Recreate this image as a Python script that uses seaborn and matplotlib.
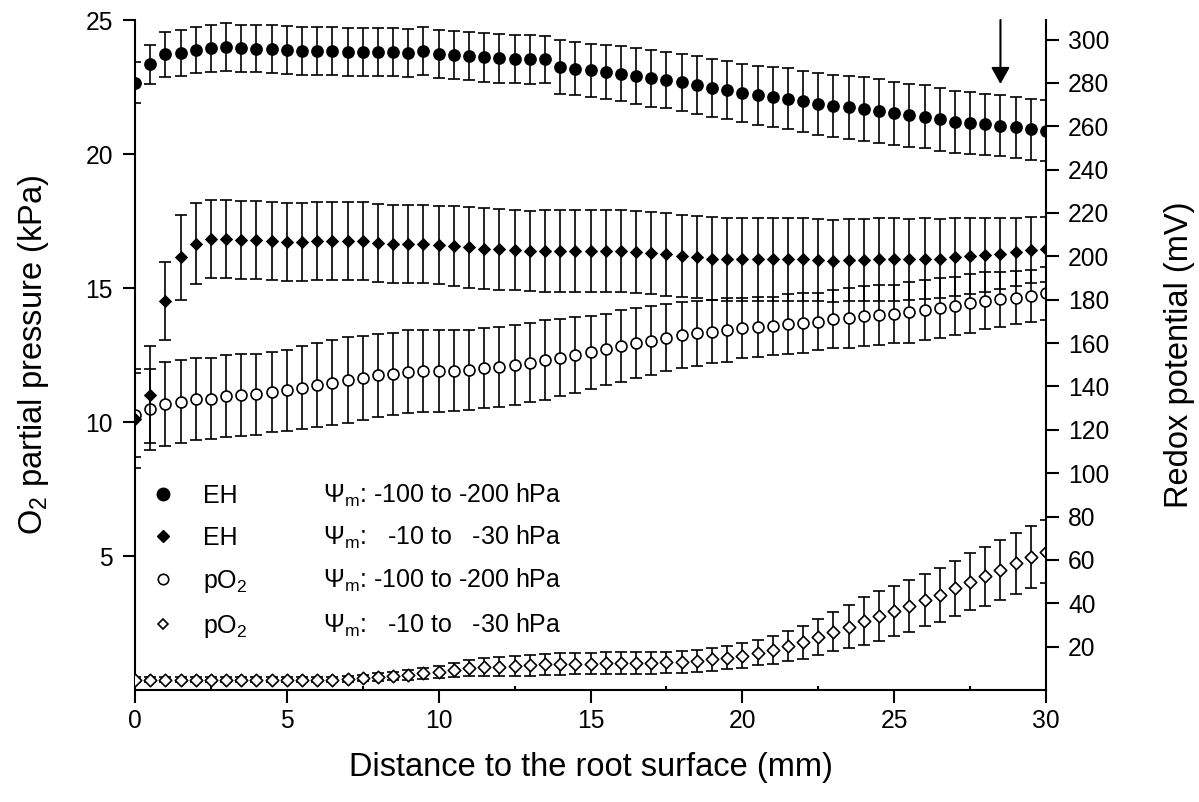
import numpy as np
import pandas as pd
import matplotlib
matplotlib.use("Agg")
import matplotlib.pyplot as plt
import seaborn as sns
from matplotlib.lines import Line2D

# ---------------- data ----------------
distance_mm = [0.0, 0.5, 1.0, 1.5, 2.0, 2.5, 3.0, 3.5, 4.0, 4.5,
               5.0, 5.5, 6.0, 6.5, 7.0, 7.5, 8.0, 8.5, 9.0, 9.5,
               10.0, 10.5, 11.0, 11.5, 12.0, 12.5, 13.0, 13.5, 14.0, 14.5,
               15.0, 15.5, 16.0, 16.5, 17.0, 17.5, 18.0, 18.5, 19.0, 19.5,
               20.0, 20.5, 21.0, 21.5, 22.0, 22.5, 23.0, 23.5, 24.0, 24.5,
               25.0, 25.5, 26.0, 26.5, 27.0, 27.5, 28.0, 28.5, 29.0, 29.5,
               30.0]

# EH (mV), Psi_m -100 to -200 hPa  (filled circles, right axis)
eh_dry_mv = [280.1, 288.5, 293.2, 293.6, 295.2, 295.9, 296.4, 295.9, 295.8, 295.5,
             295.2, 294.8, 294.7, 294.6, 294.2, 294.2, 294.2, 294.2, 293.9, 294.6,
             293.3, 292.8, 292.4, 291.8, 291.3, 291.0, 290.9, 290.9, 287.4, 286.5,
             285.8, 284.9, 284.2, 283.2, 282.1, 281.3, 280.2, 279.0, 277.8, 276.7,
             275.4, 274.4, 273.6, 272.7, 271.6, 270.4, 269.4, 268.7, 267.9, 267.0,
             265.9, 265.0, 264.4, 263.2, 261.9, 261.6, 261.0, 260.2, 259.5, 258.6,
             257.9]
eh_dry_err = [9.3, 9.0, 10.4, 10.6, 10.6, 10.8, 11.0, 11.0, 11.0, 11.0,
              11.0, 11.0, 11.0, 11.0, 11.0, 11.0, 11.0, 11.0, 11.0, 11.0,
              11.2, 11.2, 11.2, 11.2, 11.2, 11.2, 11.2, 10.8, 12.3, 12.3,
              12.3, 12.5, 12.6, 12.8, 13.0, 13.1, 13.2, 13.3, 13.4, 13.4,
              13.4, 13.6, 13.8, 14.0, 14.1, 14.3, 14.4, 14.5, 14.6, 14.7,
              14.7, 14.6, 14.5, 14.4, 14.3, 14.2, 14.1, 14.0, 14.0, 14.0,
              14.0]

# EH (mV), Psi_m -10 to -30 hPa  (filled diamonds, right axis)
eh_wet_mv = [125.2, 136.2, 179.4, 199.5, 205.9, 207.8, 207.8, 207.5, 207.5, 207.1,
             206.7, 206.7, 207.1, 207.1, 207.1, 207.1, 206.2, 205.9, 205.9, 205.5,
             205.2, 204.7, 204.1, 203.6, 203.2, 202.8, 202.6, 202.5, 202.5, 202.5,
             202.5, 202.5, 202.5, 202.1, 201.6, 200.9, 200.1, 199.8, 199.0, 198.6,
             198.6, 198.6, 198.6, 198.6, 198.6, 198.2, 197.9, 198.2, 198.2, 198.6,
             198.6, 198.6, 199.0, 199.0, 199.8, 200.1, 200.5, 201.3, 202.1, 202.8,
             203.2]
eh_wet_err = [23.0, 22.3, 18.0, 19.5, 18.6, 18.0, 18.0, 18.0, 18.0, 18.0,
              18.0, 18.0, 18.0, 18.0, 18.0, 18.0, 18.0, 18.0, 18.0, 18.0,
              18.0, 18.3, 18.5, 18.5, 18.5, 18.5, 18.5, 19.0, 19.0, 19.0,
              19.0, 19.0, 19.0, 19.0, 19.0, 19.0, 19.0, 19.0, 19.0, 19.0,
              19.0, 19.0, 19.0, 19.0, 19.0, 19.0, 19.0, 19.0, 19.0, 19.0,
              19.0, 18.8, 18.5, 18.2, 18.0, 17.5, 17.0, 16.5, 15.8, 15.2,
              15.0]

# pO2 (kPa), Psi_m -100 to -200 hPa  (open circles, left axis)
po2_dry_kpa = [10.26, 10.47, 10.66, 10.76, 10.85, 10.87, 10.97, 11.01, 11.04, 11.12,
               11.19, 11.28, 11.38, 11.47, 11.57, 11.65, 11.74, 11.79, 11.88, 11.90,
               11.90, 11.91, 11.94, 12.00, 12.06, 12.13, 12.21, 12.31, 12.40, 12.50,
               12.60, 12.71, 12.84, 12.94, 13.03, 13.15, 13.24, 13.31, 13.37, 13.43,
               13.51, 13.56, 13.59, 13.66, 13.68, 13.74, 13.83, 13.89, 13.96, 13.99,
               14.03, 14.09, 14.18, 14.24, 14.33, 14.43, 14.53, 14.58, 14.64, 14.70,
               14.80]
po2_dry_err = [1.55, 1.52, 1.57, 1.54, 1.54, 1.52, 1.52, 1.52, 1.51, 1.51,
               1.51, 1.54, 1.57, 1.59, 1.59, 1.57, 1.56, 1.54, 1.54, 1.54,
               1.52, 1.51, 1.49, 1.49, 1.49, 1.49, 1.48, 1.49, 1.43, 1.41,
               1.36, 1.33, 1.34, 1.31, 1.28, 1.24, 1.23, 1.22, 1.18, 1.18,
               1.13, 1.12, 1.09, 1.12, 1.12, 1.06, 1.08, 1.12, 1.12, 1.12,
               1.09, 1.13, 1.12, 1.12, 1.08, 1.10, 1.07, 1.02, 0.98, 0.96,
               1.00]

# pO2 (kPa), Psi_m -10 to -30 hPa  (open diamonds, left axis)
po2_wet_kpa = [0.38, 0.38, 0.38, 0.38, 0.38, 0.38, 0.38, 0.38, 0.38, 0.38,
               0.38, 0.38, 0.38, 0.39, 0.41, 0.44, 0.49, 0.52, 0.56, 0.62,
               0.68, 0.75, 0.81, 0.85, 0.87, 0.90, 0.93, 0.96, 0.97, 0.98,
               0.98, 1.00, 1.00, 1.00, 1.00, 1.03, 1.06, 1.09, 1.15, 1.21,
               1.28, 1.39, 1.49, 1.65, 1.78, 1.99, 2.18, 2.36, 2.57, 2.76,
               2.95, 3.13, 3.36, 3.54, 3.79, 4.04, 4.25, 4.48, 4.73, 4.95,
               5.16]
po2_wet_err = [0.10, 0.10, 0.10, 0.10, 0.10, 0.10, 0.10, 0.10, 0.10, 0.10,
               0.10, 0.10, 0.10, 0.10, 0.10, 0.12, 0.14, 0.16, 0.18, 0.20,
               0.22, 0.26, 0.30, 0.33, 0.36, 0.38, 0.39, 0.40, 0.40, 0.40,
               0.40, 0.40, 0.40, 0.40, 0.40, 0.40, 0.41, 0.42, 0.43, 0.44,
               0.47, 0.47, 0.51, 0.56, 0.61, 0.67, 0.73, 0.81, 0.89, 0.92,
               0.93, 0.96, 0.98, 1.00, 1.03, 1.06, 1.10, 1.12, 1.14, 1.16,
               1.18]

legend_labels = ["EH", "EH", "pO$_2$", "pO$_2$"]
psi_labels = [r"$\Psi_\mathrm{m}$: -100 to -200 hPa",
              r"$\Psi_\mathrm{m}$:   -10 to   -30 hPa",
              r"$\Psi_\mathrm{m}$: -100 to -200 hPa",
              r"$\Psi_\mathrm{m}$:   -10 to   -30 hPa"]

left_ticks = [5, 10, 15, 20, 25]
right_ticks = [20, 40, 60, 80, 100, 120, 140, 160, 180, 200, 220, 240, 260, 280, 300]
x_ticks = [0, 5, 10, 15, 20, 25, 30]

# ---------------- style ----------------
TICK_FS = 17.7
LEG_FS = 18
LAB_FS = 23.5

sns.set_theme(style="ticks")
plt.rcParams["font.family"] = ["Liberation Sans", "DejaVu Sans"]
plt.rcParams["mathtext.fontset"] = "custom"
plt.rcParams["mathtext.rm"] = "Liberation Sans"
plt.rcParams["mathtext.it"] = "Liberation Sans:italic"
plt.rcParams["mathtext.bf"] = "Liberation Sans:bold"
plt.rcParams["axes.linewidth"] = 1.5
plt.rcParams["text.color"] = "black"
plt.rcParams["axes.labelcolor"] = "black"
plt.rcParams["xtick.color"] = "black"
plt.rcParams["ytick.color"] = "black"
plt.rcParams["xtick.labelsize"] = TICK_FS
plt.rcParams["ytick.labelsize"] = TICK_FS

W, H = 1199, 802
fig = plt.figure(figsize=(W / 100, H / 100), dpi=100)
ax = fig.add_axes([135 / W, 112 / H, 911 / W, 670 / H])
ax2 = ax.twinx()

df = pd.DataFrame({
    "distance": distance_mm,
    "eh_dry": eh_dry_mv, "eh_wet": eh_wet_mv,
    "po2_dry": po2_dry_kpa, "po2_wet": po2_wet_kpa,
})

ebkw = dict(fmt="none", ecolor="black", elinewidth=1.2, capsize=4.3, capthick=1.2, zorder=2)

# pO2 (left axis)
ax.errorbar(distance_mm, po2_dry_kpa, yerr=po2_dry_err, **ebkw)
ax.errorbar(distance_mm, po2_wet_kpa, yerr=po2_wet_err, **ebkw)
sns.scatterplot(data=df, x="distance", y="po2_dry", ax=ax, marker="o", s=62,
                facecolor="white", edgecolor="black", linewidth=1.2, zorder=3, legend=False)
sns.scatterplot(data=df, x="distance", y="po2_wet", ax=ax, marker="D", s=40,
                facecolor="white", edgecolor="black", linewidth=1.2, zorder=3, legend=False)

# EH (right axis)
ax2.errorbar(distance_mm, eh_dry_mv, yerr=eh_dry_err, **ebkw)
ax2.errorbar(distance_mm, eh_wet_mv, yerr=eh_wet_err, **ebkw)
sns.scatterplot(data=df, x="distance", y="eh_dry", ax=ax2, marker="o", s=84,
                color="black", edgecolor="black", linewidth=0, zorder=3, legend=False)
sns.scatterplot(data=df, x="distance", y="eh_wet", ax=ax2, marker="D", s=46,
                color="black", edgecolor="black", linewidth=0, zorder=3, legend=False)

# axes limits / ticks
ax.set_xlim(0, 30)
ax.set_ylim(0, 25)
ax2.set_ylim(0, 309)
ax.set_xticks(x_ticks)
ax.set_xticks([2.5, 7.5, 12.5, 17.5, 22.5, 27.5], minor=True)
ax.set_yticks(left_ticks)
ax2.set_yticks(right_ticks)
ax.set_xticklabels([str(v) for v in x_ticks], fontsize=TICK_FS, color="black")
ax.set_yticklabels([str(v) for v in left_ticks], fontsize=TICK_FS, color="black")
ax2.set_yticklabels([str(v) for v in right_ticks], fontsize=TICK_FS, color="black")

ax.tick_params(axis="x", which="major", direction="out", length=9, width=1.5,
               labelsize=TICK_FS, pad=5, color="black", labelcolor="black")
ax.tick_params(axis="x", which="minor", direction="in", length=3, width=1.5, color="black")
ax.tick_params(axis="y", which="major", direction="out", length=9, width=1.5,
               labelsize=TICK_FS, pad=7, color="black", labelcolor="black")
ax2.tick_params(axis="y", which="major", direction="out", length=9, width=1.5,
                labelsize=TICK_FS, pad=7, color="black", labelcolor="black")

for s in ["top", "right"]:
    ax.spines[s].set_visible(False)
for s in ["top", "left", "bottom"]:
    ax2.spines[s].set_visible(False)
for sp in [ax.spines["left"], ax.spines["bottom"], ax2.spines["right"]]:
    sp.set_linewidth(1.5)
    sp.set_color("black")

ax.set_xlabel("Distance to the root surface (mm)", fontsize=LAB_FS, color="black")
ax.xaxis.set_label_coords(0.5, -0.0925)
ax.set_ylabel("O$_2$ partial pressure (kPa)", fontsize=LAB_FS, color="black")
ax.yaxis.set_label_coords(-0.0922, 0.5)
ax2.set_ylabel("Redox potential (mV)", fontsize=LAB_FS, color="black")
ax2.yaxis.set_label_coords(1.13, 0.5)

# arrow marking a position
arrow_x = 28.5
arrow_from_mv = 309
arrow_to_mv = 279.5
ax2.annotate("", xy=(arrow_x, arrow_to_mv), xytext=(arrow_x, arrow_from_mv),
             arrowprops=dict(arrowstyle="-|>,head_length=0.5,head_width=0.28",
                             color="black", lw=1.5, mutation_scale=20,
                             shrinkA=0, shrinkB=0),
             annotation_clip=False)

# legend
handles = [
    Line2D([], [], ls="", marker="o", ms=9, mfc="black", mec="black"),
    Line2D([], [], ls="", marker="D", ms=6.3, mfc="black", mec="black"),
    Line2D([], [], ls="", marker="o", ms=7.5, mfc="white", mec="black", mew=1.2),
    Line2D([], [], ls="", marker="D", ms=5.0, mfc="white", mec="black", mew=1.2),
]
leg = ax2.legend(handles, legend_labels, loc="upper left",
                 bbox_to_anchor=(0.017, 0.3075), frameon=False, fontsize=LEG_FS,
                 handlelength=1.0, handletextpad=1.1, labelspacing=0.72,
                 borderpad=0, borderaxespad=0, labelcolor="black")

fig.canvas.draw()
psi_x = 323 / W
for t, lab in zip(leg.get_texts(), psi_labels):
    disp = t.get_transform().transform((0, 0))
    fy = fig.transFigure.inverted().transform(disp)[1]
    fig.text(psi_x, fy, lab, fontsize=LEG_FS, va="baseline", ha="left", color="black")

fig.savefig("out.png", dpi=100)
